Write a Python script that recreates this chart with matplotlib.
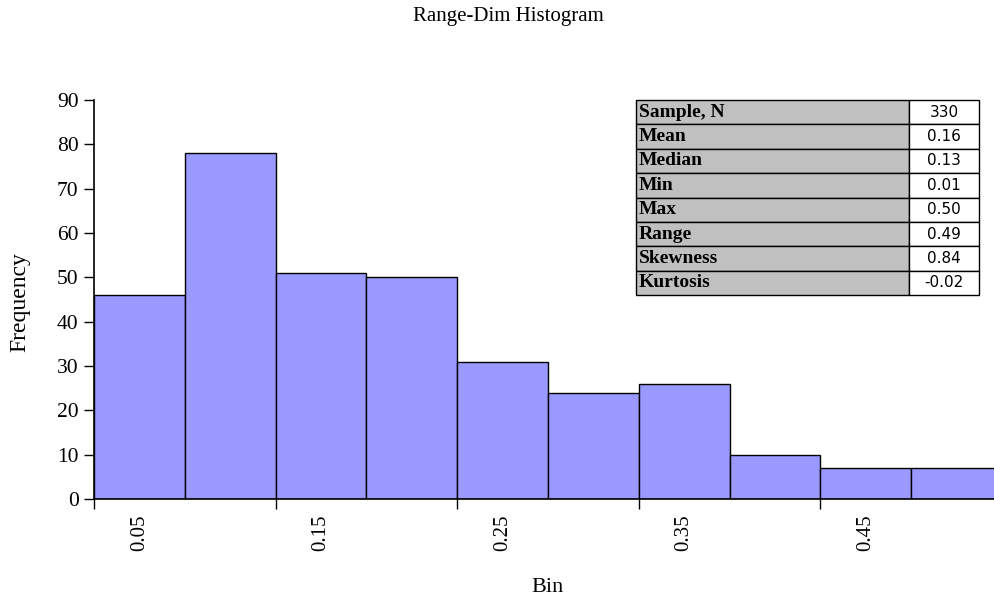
import numpy as np
import matplotlib.pyplot as plt

bins = ["0.05", "0.1", "0.15", "0.2", "0.25", "0.3", "0.35", "0.4", "0.45", "0.5"]
freq = [46, 78, 51, 50, 31, 24, 26, 10, 7, 7]

stat_names = ["Sample, N", "Mean", "Median", "Min", "Max", "Range", "Skewness", "Kurtosis"]
stat_vals = ["330", "0.16", "0.13", "0.01", "0.50", "0.49", "0.84", "-0.02"]

serif = "Liberation Serif"

fig = plt.figure(figsize=(9.94, 6), dpi=100)
ax = fig.add_axes([94/994, 101/600, 908/994, 399/600])

x = np.arange(len(freq))
ax.bar(x, freq, width=1.0, align="edge", color="#9999FF", edgecolor="black", linewidth=1)
ax.set_xlim(0, len(freq))
ax.set_ylim(0, 90)
ax.set_yticks(range(0, 91, 10))
ax.tick_params(axis="y", direction="out", length=7, width=1, labelsize=15.5, pad=4)
for lab in ax.get_yticklabels():
    lab.set_fontfamily(serif)

# labels at every other category centre, tick marks at every other boundary
ax.set_xticks(x[::2] + 0.5)
ax.set_xticklabels(bins[::2], rotation=90, fontsize=15, fontfamily=serif)
ax.tick_params(axis="x", which="major", length=0, pad=11)
ax.set_xticks(np.arange(0, len(freq), 2), minor=True)
ax.tick_params(axis="x", which="minor", direction="out", length=7, width=1)

for s in ["top", "right"]:
    ax.spines[s].set_visible(False)
ax.spines["left"].set_linewidth(1.2)
ax.spines["bottom"].set_linewidth(1.2)

fig.text(20/994, 1 - 302/600, "Frequency", rotation=90, ha="center", va="center",
         fontsize=17, fontfamily=serif)
fig.text(548/994, 1 - 588/600, "Bin", ha="center", va="center", fontsize=16, fontfamily=serif)
fig.text(508/994, 1 - 17/600, "Range-Dim Histogram", ha="center", va="center",
         fontsize=15, fontfamily=serif)

# stats table
tax = fig.add_axes([636/994, 1 - 295/600, 343/994, 195/600])
tax.axis("off")
tbl = tax.table(cellText=[[n, v] for n, v in zip(stat_names, stat_vals)],
                colWidths=[0.796, 0.204], bbox=[0, 0, 1, 1], cellLoc="left")
tbl.auto_set_font_size(False)
for (r, c), cell in tbl.get_celld().items():
    cell.set_linewidth(1)
    cell.set_edgecolor("black")
    if c == 0:
        cell.set_facecolor("#C0C0C0")
        cell.get_text().set_fontfamily(serif)
        cell.get_text().set_fontweight("bold")
        cell.get_text().set_fontsize(14)
        cell.PAD = 0.01
    else:
        cell.set_facecolor("white")
        cell.get_text().set_ha("center")
        cell.get_text().set_fontfamily("DejaVu Sans")
        cell.get_text().set_fontsize(11)
        cell._loc = "center"

fig.savefig("out.png", dpi=100)
